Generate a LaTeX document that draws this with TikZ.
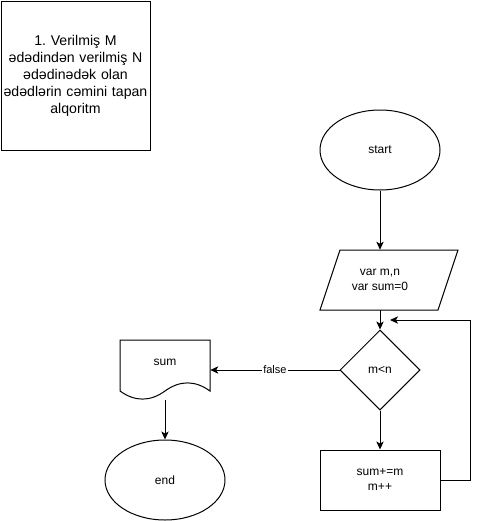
\documentclass[tikz,border=0pt]{standalone}
\usepackage{fontspec}
\setmainfont{Liberation Sans}
\usetikzlibrary{shapes.geometric,arrows.meta}
\frenchspacing
\begin{document}
\begin{tikzpicture}[x=0.75pt,y=-0.75pt,
  every node/.style={font=\fontsize{9}{11.25}\selectfont, align=center, inner sep=0pt},
  shp/.style={draw, line width=0.75pt},
  conn/.style={draw, line width=0.75pt, -{Stealth[length=6pt,width=5.5pt,inset=1.5pt]}},
  lbl/.style={fill=white, inner sep=1pt, font=\fontsize{8.25}{10}\selectfont}]
\useasboundingbox (0,0) rectangle (479,521);
% title box
\node[shp, minimum width=149*0.75pt, minimum height=149*0.75pt, text width=148*0.75pt,
  font=\fontsize{10.6}{12.75}\selectfont] (title) at (75.5,75.5)
  {1.\ Verilmiş M\\ədədindən verilmiş N\\ədədinədək olan\\ədədlərin cəmini tapan\\alqoritm\\[-1pt]};
% start
\node[shp, ellipse, minimum width=120*0.75pt, minimum height=80*0.75pt] (start) at (380,150) {start};
% input parallelogram
\node[minimum width=120*0.75pt, minimum height=60*0.75pt] (inp) at (380,280) {var m,n\\var sum=0};
\draw[shp] (340,250) -- (458,250) -- (438,310) -- (320,310) -- cycle;
% decision
\node[shp, diamond, minimum width=80*0.75pt, minimum height=80*0.75pt, aspect=1] (dec) at (380,370) {m<n};
% process
\node[shp, minimum width=120*0.75pt, minimum height=60*0.75pt] (proc) at (380,480) {sum+=m\\m++};
% document
\node[minimum width=90*0.75pt, minimum height=60*0.75pt] (doc) at (165,370) {};
\node at (165,362) (doctext) {sum};
\draw[shp] (120,340) -- (210,340) -- (210,391)
  .. controls (195,380.2) and (180,380.2) .. (165,391)
  .. controls (150,401.8) and (135,401.8) .. (120,391) -- cycle;
% end
\node[shp, ellipse, minimum width=120*0.75pt, minimum height=80*0.75pt] (end) at (165,480) {end};
\coordinate (loopend) at (390,320);
% connectors
\draw[conn] (start) -- (start.south |- inp.north);
\draw[conn] (inp.south) -- (dec.north);
\draw[conn] (dec.south) -- (proc.north);
\draw[conn] (proc.east) -- (470,480) -- (470,320) -- (loopend);
\draw[conn] (dec.west) -- node[lbl, pos=0.5] {false} (doc.east);
\draw[conn] (doc.south) -- (end.north);
\end{tikzpicture}
\end{document}
